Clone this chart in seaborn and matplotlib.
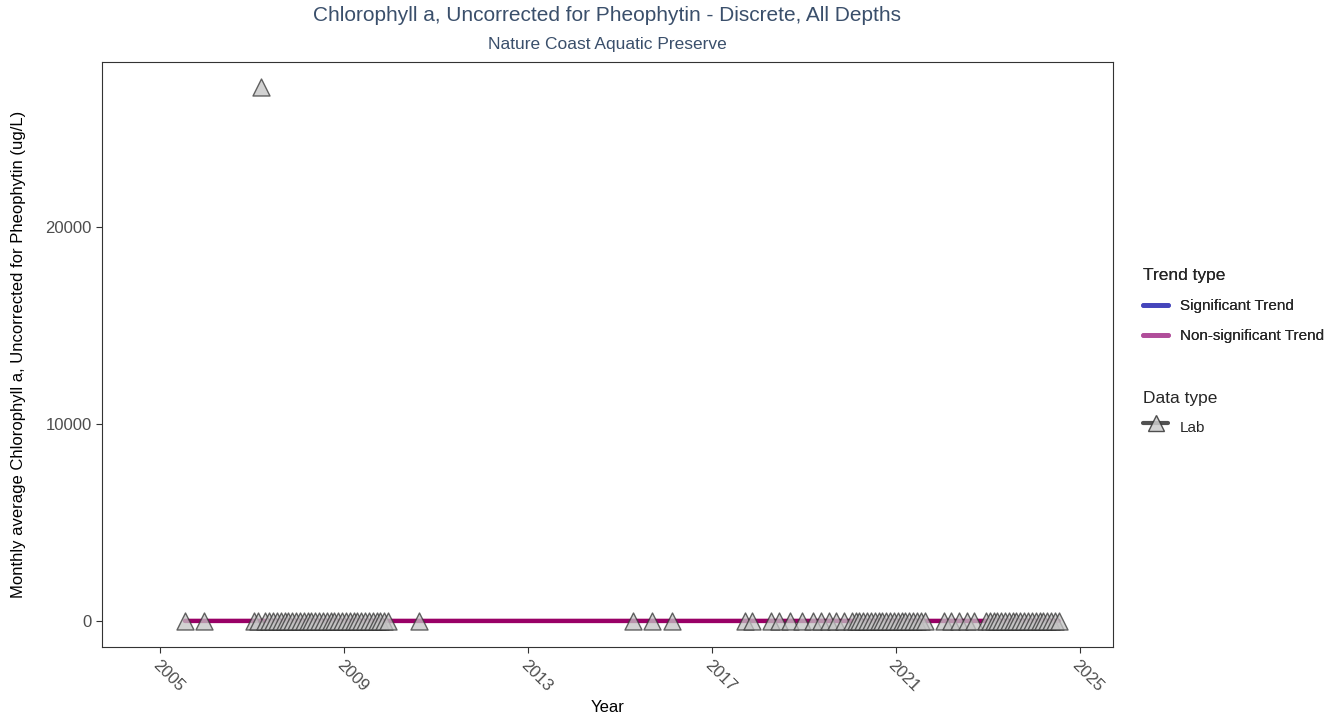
import seaborn as sns
import matplotlib.pyplot as plt
import matplotlib.dates as mdates
from matplotlib.lines import Line2D
import pandas as pd

# =========================
#   DATA (monthly averages, ug/L)
# =========================

lab_months = [
    "2005-07", "2005-12",
    "2007-01", "2007-02", "2007-03", "2007-04", "2007-05", "2007-06",
    "2007-07", "2007-08", "2007-09", "2007-10", "2007-11", "2007-12",
    "2008-01", "2008-02", "2008-03", "2008-04", "2008-05", "2008-06",
    "2008-07", "2008-08", "2008-09", "2008-10", "2008-11", "2008-12",
    "2009-01", "2009-02", "2009-03", "2009-04", "2009-05", "2009-06",
    "2009-07", "2009-08", "2009-09", "2009-10", "2009-11", "2009-12",
    "2010-08",
    "2015-04", "2015-09", "2016-02",
    "2017-09", "2017-11", "2018-04", "2018-06", "2018-09", "2018-12",
    "2019-03", "2019-05", "2019-07", "2019-09", "2019-11",
    "2020-01", "2020-02", "2020-03", "2020-04", "2020-05", "2020-06",
    "2020-07", "2020-08", "2020-09", "2020-10", "2020-11", "2020-12",
    "2021-01", "2021-02", "2021-03", "2021-04", "2021-05", "2021-06",
    "2021-07", "2021-08",
    "2022-01", "2022-03", "2022-05", "2022-07", "2022-09",
    "2022-12", "2023-01", "2023-02", "2023-03", "2023-04", "2023-05",
    "2023-06", "2023-07", "2023-08", "2023-09", "2023-10", "2023-11",
    "2023-12", "2024-01", "2024-02", "2024-03", "2024-04", "2024-05",
    "2024-06", "2024-07",
]

lab_values = [
    4.2, 3.1,
    5.6, 6.3, 27100.0, 4.8, 3.9, 7.2,
    8.1, 6.4, 5.5, 4.7, 3.6, 2.9,
    3.3, 4.1, 5.0, 6.2, 7.5, 8.8,
    9.4, 7.1, 6.0, 4.4, 3.8, 3.2,
    2.7, 3.5, 4.6, 5.9, 6.8, 7.7,
    8.3, 7.0, 5.8, 4.9, 3.7, 3.0,
    4.5,
    3.4, 5.2, 2.8,
    4.0, 3.3, 5.1, 6.6, 5.4, 2.9,
    3.6, 4.8, 6.9, 5.7, 3.9,
    2.6, 3.1, 3.8, 4.9, 5.6, 6.7,
    7.4, 6.8, 5.9, 4.6, 3.5, 2.8,
    2.5, 3.0, 3.7, 4.4, 5.3, 6.1,
    7.0, 6.5,
    3.2, 4.1, 5.8, 6.9, 5.0,
    2.9, 2.7, 3.3, 3.9, 4.7, 5.5,
    6.3, 7.2, 6.6, 5.4, 4.3, 3.4,
    2.8, 2.6, 3.0, 3.6, 4.5, 5.2,
    6.0, 6.8,
]

trend_dates = ["2005-07-15", "2024-07-15"]
trend_values = [5.4, 4.6]

tick_years = ["2005-01-01", "2009-01-01", "2013-01-01",
              "2017-01-01", "2021-01-01", "2025-01-01"]

# =========================
#   FRAMES
# =========================

df_lab = pd.DataFrame({
    "Date": pd.to_datetime([m + "-15" for m in lab_months]),
    "Value": lab_values,
})
df_trend = pd.DataFrame({
    "Date": pd.to_datetime(trend_dates),
    "Value": trend_values,
})

# =========================
#   PLOT
# =========================

sns.set_theme(style="white")
plt.rcParams["font.family"] = ["Liberation Sans", "DejaVu Sans"]

fig = plt.figure(figsize=(13.4, 7.23), dpi=100)
ax = fig.add_axes([0.0761, 0.1051, 0.7545, 0.8091])

sns.lineplot(
    data=df_trend, x="Date", y="Value", ax=ax,
    color="#990066", linewidth=3.2, zorder=2, legend=False,
)
sns.scatterplot(
    data=df_lab, x="Date", y="Value", ax=ax,
    marker="^", s=150, color="#c4c4c4", alpha=0.75,
    edgecolor="#333333", linewidth=1.0, zorder=3, legend=False,
)

ax.set_xlim(pd.Timestamp("2003-09-25"), pd.Timestamp("2025-09-20"))
ax.set_ylim(-1320, 28380)
ax.set_yticks([0, 10000, 20000])
ax.xaxis.set_major_formatter(mdates.DateFormatter("%Y"))
ax.set_xticks(pd.to_datetime(tick_years))

ax.tick_params(axis="both", direction="out", length=4, width=0.8,
               color="#333333", labelcolor="#4d4d4d", labelsize=12,
               left=True, bottom=True)
for lbl in ax.get_xticklabels():
    lbl.set_rotation(-45)
    lbl.set_ha("left")
    lbl.set_rotation_mode("anchor")

for spine in ax.spines.values():
    spine.set_color("#333333")
    spine.set_linewidth(0.8)

ax.set_xlabel("Year", fontsize=12, color="black")
ax.set_ylabel("Monthly average Chlorophyll a, Uncorrected for Pheophytin (ug/L)",
              fontsize=12, color="black", labelpad=14)

# =========================
#   TITLES
# =========================

fig.text(0.453, 0.978, "Chlorophyll a, Uncorrected for Pheophytin - Discrete, All Depths",
         ha="center", va="center", fontsize=15, color="#3a4f6b")
fig.text(0.453, 0.939, "Nature Coast Aquatic Preserve",
         ha="center", va="center", fontsize=12.5, color="#3a4f6b")

# =========================
#   LEGENDS
# =========================

trend_handles = [
    Line2D([0], [0], color="#4444bb", alpha=0.9, linewidth=3.5),
    Line2D([0], [0], color="#b04c99", alpha=0.9, linewidth=3.5),
]
leg1 = fig.legend(
    trend_handles, ["Significant Trend", "Non-significant Trend"],
    title="Trend type", loc="upper left", bbox_to_anchor=(0.843, 0.648),
    frameon=False, fontsize=11, title_fontsize=12.5, handlelength=1.6,
    labelspacing=1.05, alignment="left",
)
data_handles = [
    Line2D([0], [0], color="#333333", linewidth=3.0, marker="^",
           markersize=11, markerfacecolor="#cccccc", markeredgecolor="#333333",
           alpha=0.85),
]
fig.legend(
    data_handles, ["Lab"],
    title="Data type", loc="upper left", bbox_to_anchor=(0.843, 0.478),
    frameon=False, fontsize=11, title_fontsize=12.5, handlelength=1.6,
    handleheight=2.4, alignment="left",
)
fig.add_artist(leg1)

fig.savefig("out.png", dpi=100)
